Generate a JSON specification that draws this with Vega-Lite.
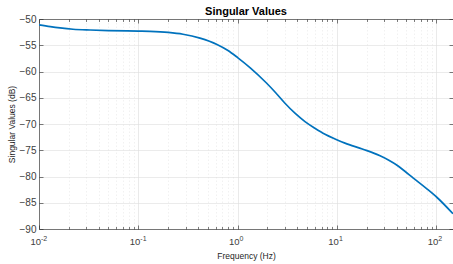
{
  "$schema": "https://vega.github.io/schema/vega-lite/v6.json",
  "width": 414,
  "height": 210,
  "autosize": "none",
  "padding": {"left": 39, "top": 19, "right": 0, "bottom": 35},
  "background": "white",
  "title": {"text": "Singular Values", "fontSize": 11, "fontWeight": "bold", "font": "Liberation Sans", "color": "#000000", "anchor": "middle", "offset": -2.5},
  "config": {
    "view": {"stroke": null},
    "axis": {"labelFont": "Liberation Sans", "titleFont": "Liberation Sans", "labelColor": "#404040", "titleColor": "#262626", "domainColor": "#262626", "tickColor": "#262626", "domainWidth": 0.6, "tickWidth": 0.6, "gridColor": "#dedede", "gridWidth": 0.6}
  },
  "layer": [
    {
      "data": {"values": [
        {"f": 0.01, "sv": -51.1},
        {"f": 0.013, "sv": -51.45},
        {"f": 0.0163, "sv": -51.7},
        {"f": 0.022, "sv": -51.95},
        {"f": 0.0327, "sv": -52.1},
        {"f": 0.05, "sv": -52.2},
        {"f": 0.1, "sv": -52.3},
        {"f": 0.131, "sv": -52.35},
        {"f": 0.2, "sv": -52.55},
        {"f": 0.282, "sv": -52.9},
        {"f": 0.418, "sv": -53.65},
        {"f": 0.62, "sv": -54.85},
        {"f": 0.8, "sv": -56.0},
        {"f": 1.0, "sv": -57.35},
        {"f": 1.35, "sv": -59.35},
        {"f": 1.93, "sv": -62.1},
        {"f": 2.38, "sv": -63.9},
        {"f": 3.0, "sv": -66.05},
        {"f": 3.78, "sv": -67.95},
        {"f": 4.77, "sv": -69.55},
        {"f": 6.0, "sv": -70.8},
        {"f": 7.59, "sv": -71.95},
        {"f": 9.57, "sv": -72.85},
        {"f": 12.05, "sv": -73.65},
        {"f": 18.3, "sv": -74.8},
        {"f": 27.2, "sv": -76.05},
        {"f": 33, "sv": -76.85},
        {"f": 40.3, "sv": -77.85},
        {"f": 48, "sv": -78.95},
        {"f": 58.4, "sv": -80.25},
        {"f": 80, "sv": -82.3},
        {"f": 102, "sv": -84.0},
        {"f": 147.6, "sv": -87.1}
      ]},
      "mark": {"type": "line", "color": "#0072BD", "strokeWidth": 1.7, "interpolate": "monotone", "clip": true},
      "encoding": {
        "x": {"field": "f", "type": "quantitative",
          "scale": {"type": "log", "domain": [0.01, 147.6], "nice": false},
          "axis": {"orient": "bottom", "title": "Frequency (Hz)", "titleFontSize": 8.5, "titleFontWeight": "normal", "titlePadding": 22,
            "values": [0.01,0.02,0.03,0.04,0.05,0.06,0.07,0.08,0.09,0.1,0.2,0.3,0.4,0.5,0.6,0.7,0.8,0.9,1,2,3,4,5,6,7,8,9,10,20,30,40,50,60,70,80,90,100],
            "labels": false,
            "tickSize": {"condition": {"test": "indexof([0.01,0.1,1,10,100], datum.value) < 0", "value": -2.5}, "value": -4},
            "gridDash": {"condition": {"test": "indexof([0.01,0.1,1,10,100], datum.value) < 0", "value": [1.5, 2]}, "value": []},
            "gridColor": {"condition": {"test": "indexof([0.01,0.1,1,10,100], datum.value) < 0", "value": "#e8e8e8"}, "value": "#dcdcdc"},
            "grid": true}},
        "y": {"field": "sv", "type": "quantitative",
          "scale": {"domain": [-90, -50], "nice": false, "zero": false},
          "axis": {"orient": "left", "title": "Singular Values (dB)", "titleFontSize": 8.5, "titleFontWeight": "normal", "titlePadding": 3,
            "values": [-90,-85,-80,-75,-70,-65,-60,-55,-50], "labelFontSize": 10, "labelPadding": 7, "labelDx": 8, "tickSize": -4, "grid": true, "labelFlush": false}}
      }
    },
    {
      "data": {"values": [
        {"f": 0.01, "sv": -90},
        {"f": 147.6, "sv": -50}
      ]},
      "mark": {"type": "point", "opacity": 0},
      "encoding": {
        "x": {"field": "f", "type": "quantitative",
          "scale": {"type": "log", "domain": [0.01, 147.6], "nice": false},
          "axis": {"orient": "top", "title": null, "labels": false, "grid": false,
            "values": [0.01,0.02,0.03,0.04,0.05,0.06,0.07,0.08,0.09,0.1,0.2,0.3,0.4,0.5,0.6,0.7,0.8,0.9,1,2,3,4,5,6,7,8,9,10,20,30,40,50,60,70,80,90,100],
            "tickSize": {"condition": {"test": "indexof([0.01,0.1,1,10,100], datum.value) < 0", "value": -2.5}, "value": -4}}},
        "y": {"field": "sv", "type": "quantitative",
          "scale": {"domain": [-90, -50], "nice": false, "zero": false},
          "axis": {"orient": "right", "title": null, "labels": false, "grid": false,
            "values": [-90,-85,-80,-75,-70,-65,-60,-55,-50], "tickSize": -4}}
      }
    },
    {
      "data": {"values": [
        {"f": 0.01, "sv": -90, "base": "10", "exp": "-2"},
        {"f": 0.1, "sv": -90, "base": "10", "exp": "-1"},
        {"f": 1, "sv": -90, "base": "10", "exp": "0"},
        {"f": 10, "sv": -90, "base": "10", "exp": "1"},
        {"f": 100, "sv": -90, "base": "10", "exp": "2"}
      ]},
      "mark": {"type": "text", "align": "right", "baseline": "alphabetic", "dx": 2, "dy": 16, "fontSize": 9.5, "font": "Liberation Sans", "color": "#404040"},
      "encoding": {
        "x": {"field": "f", "type": "quantitative", "scale": {"type": "log", "domain": [0.01, 147.6], "nice": false}, "axis": null},
        "y": {"field": "sv", "type": "quantitative", "scale": {"domain": [-90, -50], "nice": false, "zero": false}, "axis": null},
        "text": {"field": "base"}
      }
    },
    {
      "data": {"values": [
        {"f": 0.01, "sv": -90, "base": "10", "exp": "-2"},
        {"f": 0.1, "sv": -90, "base": "10", "exp": "-1"},
        {"f": 1, "sv": -90, "base": "10", "exp": "0"},
        {"f": 10, "sv": -90, "base": "10", "exp": "1"},
        {"f": 100, "sv": -90, "base": "10", "exp": "2"}
      ]},
      "mark": {"type": "text", "align": "left", "baseline": "alphabetic", "dx": 2, "dy": 11.5, "fontSize": 7, "font": "Liberation Sans", "color": "#404040"},
      "encoding": {
        "x": {"field": "f", "type": "quantitative", "scale": {"type": "log", "domain": [0.01, 147.6], "nice": false}, "axis": null},
        "y": {"field": "sv", "type": "quantitative", "scale": {"domain": [-90, -50], "nice": false, "zero": false}, "axis": null},
        "text": {"field": "exp"}
      }
    }
  ],
  "resolve": {"axis": {"x": "independent", "y": "independent"}}
}
